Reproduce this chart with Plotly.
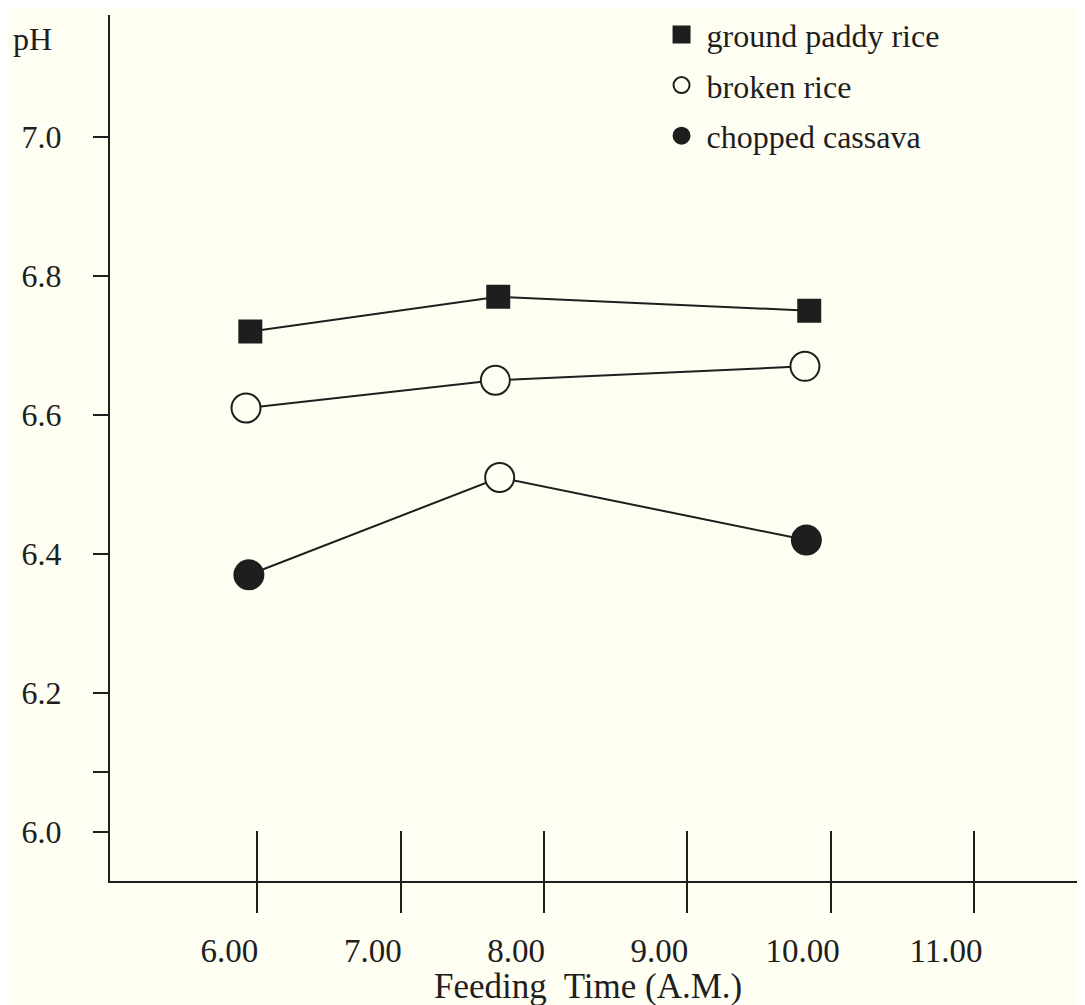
import plotly.graph_objects as go

# ---- data ----
series_names = ["ground paddy rice", "broken rice", "chopped cassava"]
paddy_time = [5.95, 7.68, 9.85]
paddy_ph = [6.72, 6.77, 6.75]
broken_time = [5.92, 7.66, 9.82]
broken_ph = [6.61, 6.65, 6.67]
cassava_time = [5.94, 7.69, 9.83]
cassava_ph = [6.37, 6.51, 6.42]
cassava_open = [False, True, False]   # middle point drawn as an open circle

x_tick_vals = [6, 7, 8, 9, 10, 11]
x_tick_text = ["6.00", "7.00", "8.00", "9.00", "10.00", "11.00"]
y_tick_vals = [6.0, 6.087, 6.2, 6.4, 6.6, 6.8, 7.0]
y_tick_text = ["6.0", "", "6.2", "6.4", "6.6", "6.8", "7.0"]

# ---- style ----
BG = "#fffef2"
INK = "#1e1e1e"
FONT = "Liberation Serif"
X_RANGE = [4.971, 11.83]
Y_RANGE = [5.9295, 7.1755]

fig = go.Figure()

series = [
    (series_names[0], paddy_time, paddy_ph, "square", [INK] * len(paddy_ph), 22),
    (series_names[1], broken_time, broken_ph, "circle", [BG] * len(broken_ph), 29),
    (series_names[2], cassava_time, cassava_ph, "circle",
     [BG if o else INK for o in cassava_open], 29),
]

# connecting lines (base axes)
for name, xs, ys, sym, fills, size in series:
    fig.add_trace(go.Scatter(
        x=xs, y=ys, mode="lines", showlegend=False, hoverinfo="skip",
        line=dict(color=INK, width=2), xaxis="x", yaxis="y"))

# markers (overlay axes, drawn above the lines)
for name, xs, ys, sym, fills, size in series:
    fig.add_trace(go.Scatter(
        x=xs, y=ys, mode="markers", name=name, legendgroup=name,
        marker=dict(symbol=sym, size=size, color=fills,
                    line=dict(color=INK, width=2)),
        xaxis="x2", yaxis="y"))

axis_common = dict(showgrid=False, zeroline=False)

fig.update_layout(
    width=1085, height=997,
    margin=dict(l=102, r=0, t=7, b=124, pad=0, autoexpand=False),
    paper_bgcolor=BG, plot_bgcolor=BG,
    font=dict(family=FONT, color=INK, size=32),
    xaxis=dict(range=X_RANGE, tickvals=x_tick_vals, ticktext=x_tick_text,
               ticks="outside", ticklen=30, tickwidth=2, tickcolor=INK,
               showline=True, linewidth=2, linecolor=INK,
               tickfont=dict(size=33, family=FONT, color=INK),
               ticklabelshift=-28, ticklabelstandoff=9, **axis_common),
    xaxis2=dict(range=X_RANGE, overlaying="x", anchor="y", side="bottom",
                tickvals=x_tick_vals, ticks="inside", ticklen=50, tickwidth=2,
                tickcolor=INK, showticklabels=False, showline=False,
                **axis_common),
    yaxis=dict(range=Y_RANGE, tickvals=y_tick_vals, ticktext=y_tick_text,
               ticks="outside", ticklen=15, tickwidth=2, tickcolor=INK,
               showline=True, linewidth=2, linecolor=INK,
               tickfont=dict(size=32, family=FONT, color=INK),
               ticklabelstandoff=25, **axis_common),
    legend=dict(x=0.556, y=1.009, xanchor="left", yanchor="top",
                bgcolor="rgba(0,0,0,0)", font=dict(size=32, family=FONT, color=INK),
                traceorder="grouped", tracegroupgap=6, itemsizing="trace",
                itemwidth=40),
    showlegend=True,
    annotations=[
        dict(text="pH", xref="paper", yref="paper", x=-0.079, y=0.9726,
             xanchor="center", yanchor="middle", showarrow=False,
             font=dict(size=32, family=FONT, color=INK)),
        dict(text="Feeding  Time (A.M.)", xref="paper", yref="paper",
             x=0.486, y=-0.1215, xanchor="center", yanchor="middle",
             showarrow=False, font=dict(size=35, family=FONT, color=INK)),
    ],
)

fig.write_html("out.html")
